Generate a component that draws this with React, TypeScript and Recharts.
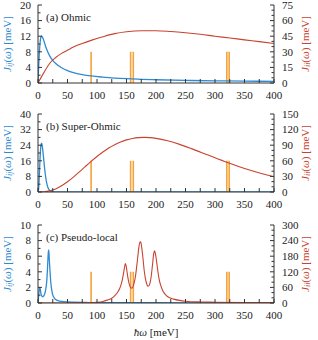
import React from 'react';
import { ComposedChart, Line, XAxis, YAxis } from 'recharts';

// ---------- data ----------
const modeFreqs = [90, 157, 161.5, 320, 324];

// Panel (a) Ohmic
const ohmicSysW = [0, 1, 2, 3, 4, 5, 6, 7, 8, 10, 12, 15, 20, 25, 30, 40, 50, 60, 75, 90, 110, 130, 150, 175, 200, 250, 300, 350, 400];
const ohmicSysJ = [0, 3.8, 7, 9.4, 11, 11.8, 12.0, 11.9, 11.6, 10.8, 9.8, 8.5, 6.9, 5.8, 5.0, 3.9, 3.15, 2.65, 2.15, 1.8, 1.5, 1.27, 1.1, 0.95, 0.83, 0.67, 0.56, 0.48, 0.42];
const ohmicBathW = [0, 10, 20, 30, 40, 50, 60, 75, 90, 110, 130, 150, 175, 200, 225, 250, 275, 300, 325, 350, 375, 400];
const ohmicBathJ = [0, 10, 19, 24.5, 28.5, 31.5, 34.5, 38, 41, 44.5, 47.5, 49.3, 50.3, 50.3, 49.5, 48.3, 46.8, 45, 43.3, 41.5, 39.8, 38];

// Panel (b) Super-Ohmic
const superSysW = [0, 1, 2, 3, 4, 5, 6, 7, 8, 9, 10, 11, 12, 13, 14, 15, 16, 17, 18, 20, 22, 25, 30, 40, 400];
const superSysJ = [0, 1.4, 6.8, 14, 20.2, 24, 25, 24, 21.7, 18.8, 15.7, 12.7, 10, 7.7, 5.8, 4.3, 3.1, 2.2, 1.55, 0.75, 0.35, 0.1, 0.01, 0, 0];
const superBathW = [0, 10, 20, 30, 40, 50, 60, 70, 80, 90, 100, 110, 120, 130, 140, 150, 160, 170, 180, 190, 200, 220, 240, 260, 280, 300, 320, 340, 360, 380, 400];
const superBathJ = [0, 0.3, 2.1, 5.9, 11.9, 19.6, 28.7, 38.6, 48.8, 58.8, 68.3, 76.9, 84.6, 91, 96.2, 100.2, 102.9, 104.5, 105, 104.5, 103.2, 98.4, 91.6, 83.4, 74.7, 65.8, 57.2, 49.2, 41.8, 35.2, 29.4];

// Panel (c) Pseudo-local
const pseudoSysW = [0, 1, 2, 3, 4, 5, 6, 7, 8, 9, 10, 11, 12, 13, 14, 15, 16, 17, 17.5, 18, 18.5, 19, 20, 21, 22, 23, 24, 25, 27, 30, 35, 40, 50, 60, 80, 100, 150, 200, 300, 400];
const pseudoSysJ = [0, 0.8, 1.6, 2.0, 1.7, 1.2, 0.95, 0.85, 0.8, 0.85, 0.95, 1.1, 1.35, 1.7, 2.2, 3.0, 4.3, 5.9, 6.5, 6.8, 6.5, 5.8, 4.5, 3.3, 2.4, 1.8, 1.35, 1.05, 0.7, 0.45, 0.28, 0.2, 0.13, 0.1, 0.07, 0.05, 0.04, 0.03, 0.02, 0.02];
const pseudoBathW = [0, 50, 90, 100, 110, 117, 125, 131, 136, 140, 143, 145, 146.5, 148, 149.5, 151, 153, 155, 157, 159, 161, 163, 165, 167, 169, 171, 173, 174.5, 176, 178, 180, 182, 184, 186, 188, 190, 192, 194, 196, 197.5, 199, 201, 203, 205, 208, 212, 216, 220, 230, 240, 250, 275, 300, 350, 400];
const pseudoBathJ = [0, 0.2, 1, 2.5, 6, 11, 18, 30, 45, 65, 90, 115, 135, 152, 142, 118, 90, 70, 60, 57, 62, 78, 100, 135, 175, 215, 235, 232, 210, 170, 125, 95, 75, 65, 66, 78, 105, 145, 188, 201, 190, 160, 125, 95, 68, 45, 32, 24, 15, 10, 7, 4, 3, 2, 1.5];

// ticks
const xTicks = [0, 25, 50, 75, 100, 125, 150, 175, 200, 225, 250, 275, 300, 325, 350, 375, 400];
const xLabelStep = 50;

// ---------- styling ----------
const BLUE = '#2f8ad2';
const RED = '#c8432f';
const ORANGE = '#f6a23a';
const AXIS = '#333333';
const FONT = "'Liberation Serif', 'Times New Roman', serif";
const TXT = { fontFamily: FONT } as React.CSSProperties;
const W = 318;
const H = 340;
const LEFT_W = 38;
const RIGHT_W = 44;
const XAX_H = 13;

const zip = (w: number[], v: number[]) => w.map((x, i) => ({ w: x, v: v[i] }));
const barSegments = (h: number) =>
  modeFreqs.flatMap((f) => [
    { w: f, v: 0 },
    { w: f, v: h },
    { w: f, v: null as number | null },
  ]);

const makeXTick = (side: 'bottom' | 'top') => (p: any) => {
  const { x, y, payload } = p;
  const v = payload.value;
  const major = v % xLabelStep === 0;
  const dy = side === 'bottom' ? -4 : 4;
  return (
    <g>
      <line x1={x} y1={y} x2={x} y2={y + dy} stroke={AXIS} strokeWidth={1} />
      {side === 'bottom' && major ? (
        <text x={x} y={y + 16} textAnchor="middle" style={TXT} fontSize={11} fill="#222">
          {v}
        </text>
      ) : null}
    </g>
  );
};

const makeYTick = (side: 'left' | 'right', labelStep: number) => (p: any) => {
  const { x, y, payload } = p;
  const v = payload.value;
  const major = Math.abs(v / labelStep - Math.round(v / labelStep)) < 1e-6;
  const len = major ? 4 : 2.5;
  const dx = side === 'left' ? len : -len;
  return (
    <g>
      <line x1={x} y1={y} x2={x + dx} y2={y} stroke={AXIS} strokeWidth={1} />
      {major ? (
        <text
          x={side === 'left' ? x - 7 : x + 8}
          y={y + 3.8}
          textAnchor={side === 'left' ? 'end' : 'start'}
          style={TXT}
          fontSize={11}
          fill="#222"
        >
          {v}
        </text>
      ) : null}
    </g>
  );
};

const range = (max: number, step: number) => {
  const out: number[] = [];
  for (let i = 0; i * step <= max + 1e-9; i++) out.push(i * step);
  return out;
};

type PanelProps = {
  top: number;
  bottom: number;
  sys: { w: number; v: number }[];
  bath: { w: number; v: number }[];
  leftMax: number;
  leftMinor: number;
  leftLabel: number;
  rightMax: number;
  rightMinor: number;
  rightLabel: number;
  barH: number;
};

function Panel(p: PanelProps) {
  return (
    <div style={{ position: 'absolute', left: 0, top: 0 }}>
      <ComposedChart
        width={W}
        height={H}
        margin={{ top: p.top, right: 0, bottom: H - p.bottom - XAX_H, left: 0 }}
      >
        <XAxis
          dataKey="w"
          type="number"
          domain={[0, 400]}
          ticks={xTicks}
          interval={0}
          tickSize={0}
          tickMargin={0}
          height={XAX_H}
          stroke={AXIS}
          tick={makeXTick('bottom')}
          allowDataOverflow
        />
        <XAxis
          xAxisId="top"
          orientation="top"
          dataKey="w"
          type="number"
          domain={[0, 400]}
          ticks={xTicks}
          interval={0}
          tickSize={0}
          tickMargin={0}
          height={0}
          stroke={AXIS}
          tick={makeXTick('top')}
          allowDataOverflow
        />
        <YAxis
          yAxisId="l"
          type="number"
          domain={[0, p.leftMax]}
          ticks={range(p.leftMax, p.leftMinor)}
          interval={0}
          tickSize={0}
          tickMargin={0}
          width={LEFT_W}
          stroke={AXIS}
          tick={makeYTick('left', p.leftLabel)}
          allowDataOverflow
        />
        <YAxis
          yAxisId="r"
          orientation="right"
          type="number"
          domain={[0, p.rightMax]}
          ticks={range(p.rightMax, p.rightMinor)}
          interval={0}
          tickSize={0}
          tickMargin={0}
          width={RIGHT_W}
          stroke={AXIS}
          tick={makeYTick('right', p.rightLabel)}
          allowDataOverflow
        />
        <Line
          yAxisId="l"
          data={barSegments(p.barH)}
          dataKey="v"
          type="linear"
          stroke={ORANGE}
          strokeWidth={1.6}
          dot={false}
          connectNulls={false}
          isAnimationActive={false}
        />
        <Line
          yAxisId="l"
          data={p.sys}
          dataKey="v"
          type="monotone"
          stroke={BLUE}
          strokeWidth={1.3}
          dot={false}
          isAnimationActive={false}
        />
        <Line
          yAxisId="r"
          data={p.bath}
          dataKey="v"
          type="monotone"
          stroke={RED}
          strokeWidth={1.1}
          dot={false}
          isAnimationActive={false}
        />
      </ComposedChart>
    </div>
  );
}

const panels = [
  { top: 5, bottom: 83, label: '(a) Ohmic' },
  { top: 114, bottom: 192, label: '(b) Super-Ohmic' },
  { top: 225, bottom: 303, label: '(c) Pseudo-local' },
];

function AxisTitle({ x, y, color, sub }: { x: number; y: number; color: string; sub: string }) {
  return (
    <text
      x={x}
      y={y}
      transform={`rotate(-90 ${x} ${y})`}
      textAnchor="middle"
      dominantBaseline="middle"
      style={TXT}
      fontSize={11}
      fill={color}
    >
      <tspan fontStyle="italic">J</tspan>
      <tspan fontStyle="italic" fontSize={8} dy={2}>
        {sub}
      </tspan>
      <tspan dy={-2}>(</tspan>
      <tspan fontStyle="italic">ω</tspan>
      <tspan>) [meV]</tspan>
    </text>
  );
}

export default function App() {
  return (
    <div style={{ position: 'absolute', left: 0, top: 0, width: W, height: H, background: '#fff', overflow: 'hidden' }}>
      <Panel
        top={panels[0].top}
        bottom={panels[0].bottom}
        sys={zip(ohmicSysW, ohmicSysJ)}
        bath={zip(ohmicBathW, ohmicBathJ)}
        leftMax={20}
        leftMinor={2}
        leftLabel={4}
        rightMax={75}
        rightMinor={5}
        rightLabel={15}
        barH={8}
      />
      <Panel
        top={panels[1].top}
        bottom={panels[1].bottom}
        sys={zip(superSysW, superSysJ)}
        bath={zip(superBathW, superBathJ)}
        leftMax={40}
        leftMinor={4}
        leftLabel={8}
        rightMax={150}
        rightMinor={10}
        rightLabel={30}
        barH={16}
      />
      <Panel
        top={panels[2].top}
        bottom={panels[2].bottom}
        sys={zip(pseudoSysW, pseudoSysJ)}
        bath={zip(pseudoBathW, pseudoBathJ)}
        leftMax={10}
        leftMinor={1}
        leftLabel={2}
        rightMax={300}
        rightMinor={20}
        rightLabel={60}
        barH={4}
      />
      <svg width={W} height={H} style={{ position: 'absolute', left: 0, top: 0, pointerEvents: 'none' }}>
        {panels.map((pn) => (
          <g key={pn.label}>
            <text x={46} y={pn.top + 16} style={TXT} fontSize={11} fill="#222">
              {pn.label}
            </text>
            <AxisTitle x={8} y={(pn.top + pn.bottom) / 2} color={BLUE} sub="ij" />
            <AxisTitle x={306} y={(pn.top + pn.bottom) / 2} color={RED} sub="ii" />
          </g>
        ))}
        <text x={156} y={336} textAnchor="middle" style={TXT} fontSize={11} fill="#222">
          <tspan fontStyle="italic">ħω</tspan>
          <tspan> [meV]</tspan>
        </text>
      </svg>
    </div>
  );
}
